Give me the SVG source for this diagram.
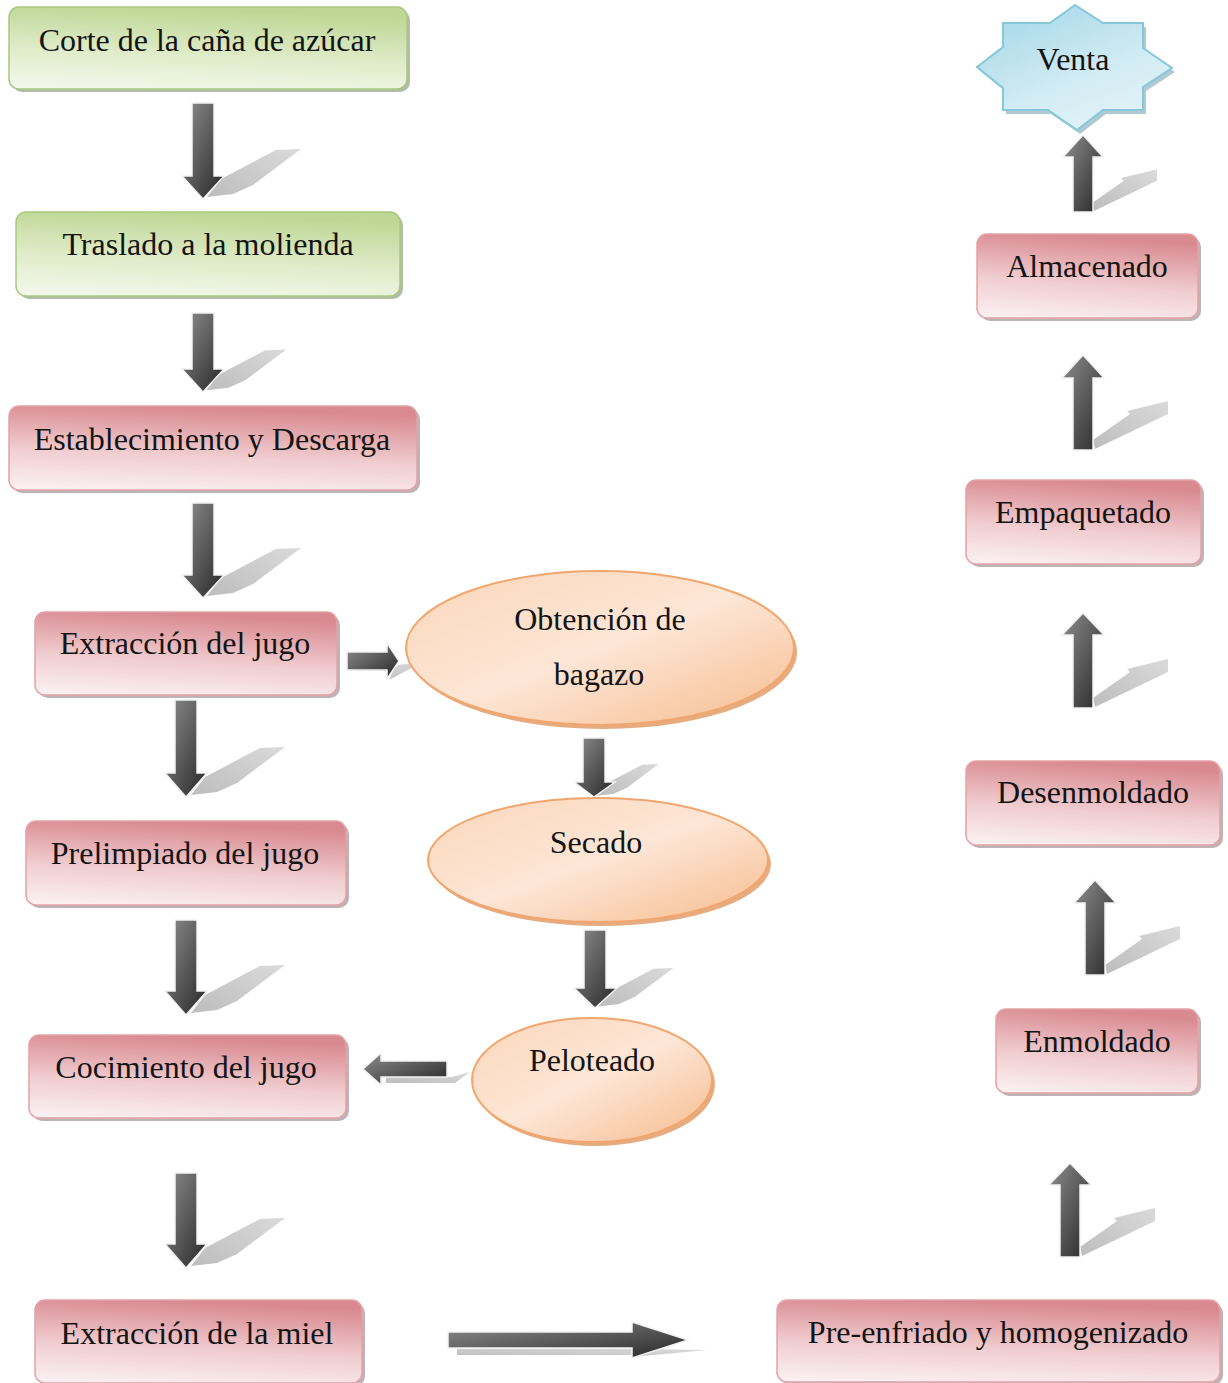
<svg xmlns="http://www.w3.org/2000/svg" xmlns:xlink="http://www.w3.org/1999/xlink" width="1228" height="1383" viewBox="0 0 1228 1383">
<defs>
<linearGradient id="gPink" x1="0.35" y1="0" x2="0.15" y2="1">
<stop offset="0" stop-color="#d98a91"/>
<stop offset="0.55" stop-color="#f0cdd0"/>
<stop offset="1" stop-color="#fbf0f1"/>
</linearGradient>
<linearGradient id="gGreen" x1="0.35" y1="0" x2="0.15" y2="1">
<stop offset="0" stop-color="#bed795"/>
<stop offset="0.55" stop-color="#e0ecca"/>
<stop offset="1" stop-color="#f3f8eb"/>
</linearGradient>
<linearGradient id="gOrange" x1="0.1" y1="0.1" x2="0.9" y2="0.9">
<stop offset="0" stop-color="#fbd9bf"/>
<stop offset="0.5" stop-color="#fde6d6"/>
<stop offset="1" stop-color="#f8c49c"/>
</linearGradient>
<linearGradient id="gBlue" x1="0.2" y1="0" x2="0.8" y2="1">
<stop offset="0" stop-color="#a6d8e8"/>
<stop offset="0.6" stop-color="#d3ecf4"/>
<stop offset="1" stop-color="#e4f3f8"/>
</linearGradient>
<linearGradient id="gArrow" x1="0" y1="0" x2="1" y2="1">
<stop offset="0" stop-color="#8e8e8e"/>
<stop offset="1" stop-color="#262626"/>
</linearGradient>
<linearGradient id="gShadow" x1="0" y1="1" x2="1" y2="0">
<stop offset="0" stop-color="#bdbdbd"/>
<stop offset="1" stop-color="#dadada"/>
</linearGradient>
<polygon id="shD" points="4,-2 18,-20 73,-49 98,-50 50,-14 30,-5"/>
<polygon id="shU" points="10,-10 47,-36 44,-39 85,-49 85,-36 12,-1"/>
</defs>
<style>
.box{stroke-width:1.5}
.pink{fill:url(#gPink);stroke:#e4a2a7}
.green{fill:url(#gGreen);stroke:#aac77f}
.bsh{fill:#a89a9c;opacity:0.75}
.gsh{fill:#98a68a;opacity:0.75}
.ell{fill:url(#gOrange);stroke:#f0a66e;stroke-width:2}
.esh{fill:#e0965e;opacity:0.8}
.star{fill:url(#gBlue);stroke:#86c7da;stroke-width:2}
.ssh{fill:#8fb3bf;opacity:0.7}
.arr{fill:url(#gArrow);stroke:#f2f2f2;stroke-width:1.5}
.sh{fill:url(#gShadow)}
text{font-family:"Liberation Serif","Times New Roman",serif;font-size:32px;fill:#141414;text-anchor:middle}
</style>

<g id="connectors">
<!-- down arrows left column -->
<use href="#shD" class="sh" transform="translate(203,199)"/>
<path class="arr" d="M192 103 H214 V176 H224 L203 199 L182 176 H192 Z"/>
<use href="#shD" class="sh" transform="translate(203,392) scale(0.85)"/>
<path class="arr" d="M192 313 H214 V369 H224 L203 392 L182 369 H192 Z"/>
<use href="#shD" class="sh" transform="translate(203,598)"/>
<path class="arr" d="M192 503 H214 V575 H224 L203 598 L182 575 H192 Z"/>
<use href="#shD" class="sh" transform="translate(187,797)"/>
<path class="arr" d="M175 700 H197 V773 H207 L186 797 L165 773 H175 Z"/>
<use href="#shD" class="sh" transform="translate(187,1015)"/>
<path class="arr" d="M175 920 H197 V991 H207 L186 1015 L165 991 H175 Z"/>
<use href="#shD" class="sh" transform="translate(187,1268)"/>
<path class="arr" d="M175 1173 H197 V1244 H207 L186 1268 L165 1244 H175 Z"/>
<!-- middle column -->
<use href="#shD" class="sh" transform="translate(594,797) scale(0.66)"/>
<path class="arr" d="M583 738 H605 V782 H615 L594 797 L574 782 H583 Z"/>
<use href="#shD" class="sh" transform="translate(595,1008) scale(0.8)"/>
<path class="arr" d="M584 930 H606 V988 H617 L595 1008 L574 988 H584 Z"/>
<!-- horizontal arrows -->
<polygon class="sh" points="354,671 393,671 389,680 423,662 398,665 394,669 354,669"/>
<path class="arr" d="M347 652 H387 V643 L399 661 L387 679 V670 H347 Z"/>
<polygon class="sh" points="386,1083 455,1083 470,1072 452,1077 386,1077"/>
<path class="arr" d="M447 1061 H381 V1053 L363 1069 L381 1085 V1077 H447 Z"/>
<polygon class="sh" points="457,1349 640,1349 707,1350 632,1357 632,1355 457,1355"/>
<path class="arr" d="M448 1332 H632 V1322 L688 1340 L632 1358 V1348 H448 Z"/>
<!-- up arrows right column -->
<use href="#shU" class="sh" transform="translate(1083,212) scale(0.87)"/>
<path class="arr" d="M1073 212 V157 H1063 L1083 135 L1103 157 H1093 V212 Z"/>
<use href="#shU" class="sh" transform="translate(1083,450)"/>
<path class="arr" d="M1073 450 V378 H1062 L1083 355 L1104 378 H1093 V450 Z"/>
<use href="#shU" class="sh" transform="translate(1083,708)"/>
<path class="arr" d="M1073 708 V635 H1062 L1083 613 L1104 635 H1093 V708 Z"/>
<use href="#shU" class="sh" transform="translate(1095,975)"/>
<path class="arr" d="M1085 975 V903 H1074 L1095 880 L1116 903 H1105 V975 Z"/>
<use href="#shU" class="sh" transform="translate(1070,1257)"/>
<path class="arr" d="M1060 1257 V1185 H1049 L1070 1163 L1091 1185 H1080 V1257 Z"/>
</g>

<g id="n1">
<rect class="gsh" x="12" y="10" width="398" height="82" rx="10"/>
<rect class="box green" x="9" y="7" width="398" height="82" rx="10"/>
<text x="207" y="51">Corte de la caña de azúcar</text>
</g>
<g id="n2">
<rect class="gsh" x="19" y="215" width="384" height="84" rx="10"/>
<rect class="box green" x="16" y="212" width="384" height="84" rx="10"/>
<text x="208" y="255">Traslado a la molienda</text>
</g>
<g id="n3">
<rect class="bsh" x="12" y="409" width="408" height="84" rx="10"/>
<rect class="box pink" x="9" y="406" width="408" height="84" rx="10"/>
<text x="212" y="450">Establecimiento y Descarga</text>
</g>
<g id="n4">
<rect class="bsh" x="38" y="615" width="302" height="83" rx="10"/>
<rect class="box pink" x="35" y="612" width="302" height="83" rx="10"/>
<text x="185" y="654">Extracción del jugo</text>
</g>
<g id="n5">
<rect class="bsh" x="29" y="824" width="320" height="84" rx="10"/>
<rect class="box pink" x="26" y="821" width="320" height="84" rx="10"/>
<text x="185" y="864">Prelimpiado del jugo</text>
</g>
<g id="n6">
<rect class="bsh" x="32" y="1038" width="317" height="83" rx="10"/>
<rect class="box pink" x="29" y="1035" width="317" height="83" rx="10"/>
<text x="186" y="1078">Cocimiento del jugo</text>
</g>
<g id="n7">
<rect class="bsh" x="38" y="1303" width="327" height="83" rx="10"/>
<rect class="box pink" x="35" y="1300" width="327" height="83" rx="10"/>
<text x="197" y="1344">Extracción de la miel</text>
</g>
<g id="n8">
<rect class="bsh" x="780" y="1303" width="443" height="82" rx="10"/>
<rect class="box pink" x="777" y="1300" width="443" height="82" rx="10"/>
<text x="998" y="1343">Pre-enfriado y homogenizado</text>
</g>
<g id="n9">
<rect class="bsh" x="999" y="1012" width="202" height="84" rx="10"/>
<rect class="box pink" x="996" y="1009" width="202" height="84" rx="10"/>
<text x="1097" y="1052">Enmoldado</text>
</g>
<g id="n10">
<rect class="bsh" x="969" y="764" width="254" height="84" rx="10"/>
<rect class="box pink" x="966" y="761" width="254" height="84" rx="10"/>
<text x="1093" y="803">Desenmoldado</text>
</g>
<g id="n11">
<rect class="bsh" x="969" y="483" width="235" height="84" rx="10"/>
<rect class="box pink" x="966" y="480" width="235" height="84" rx="10"/>
<text x="1083" y="523">Empaquetado</text>
</g>
<g id="n12">
<rect class="bsh" x="980" y="237" width="221" height="84" rx="10"/>
<rect class="box pink" x="977" y="234" width="221" height="84" rx="10"/>
<text x="1087" y="277">Almacenado</text>
</g>
<g id="n13">
<polygon class="ssh" transform="translate(3,4)" points="1075,5 1050,23 1003,23 1003,47 977,67 1003,88 1003,110 1048,110 1077,130 1103,110 1143,110 1143,87 1172,68 1143,48 1143,23 1103,23"/>
<polygon class="star" points="1075,5 1050,23 1003,23 1003,47 977,67 1003,88 1003,110 1048,110 1077,130 1103,110 1143,110 1143,87 1172,68 1143,48 1143,23 1103,23"/>
<text x="1073" y="70">Venta</text>
</g>
<g id="n14">
<ellipse class="esh" cx="603" cy="652" rx="194" ry="77"/>
<ellipse class="ell" cx="600" cy="648" rx="194" ry="77"/>
<text x="600" y="630">Obtención de</text>
<text x="599" y="685">bagazo</text>
</g>
<g id="n15">
<ellipse class="esh" cx="601" cy="864" rx="170" ry="62"/>
<ellipse class="ell" cx="598" cy="860" rx="170" ry="62"/>
<text x="596" y="853">Secado</text>
</g>
<g id="n16">
<ellipse class="esh" cx="595" cy="1084" rx="120" ry="62"/>
<ellipse class="ell" cx="592" cy="1080" rx="120" ry="62"/>
<text x="592" y="1071">Peloteado</text>
</g>
</svg>
